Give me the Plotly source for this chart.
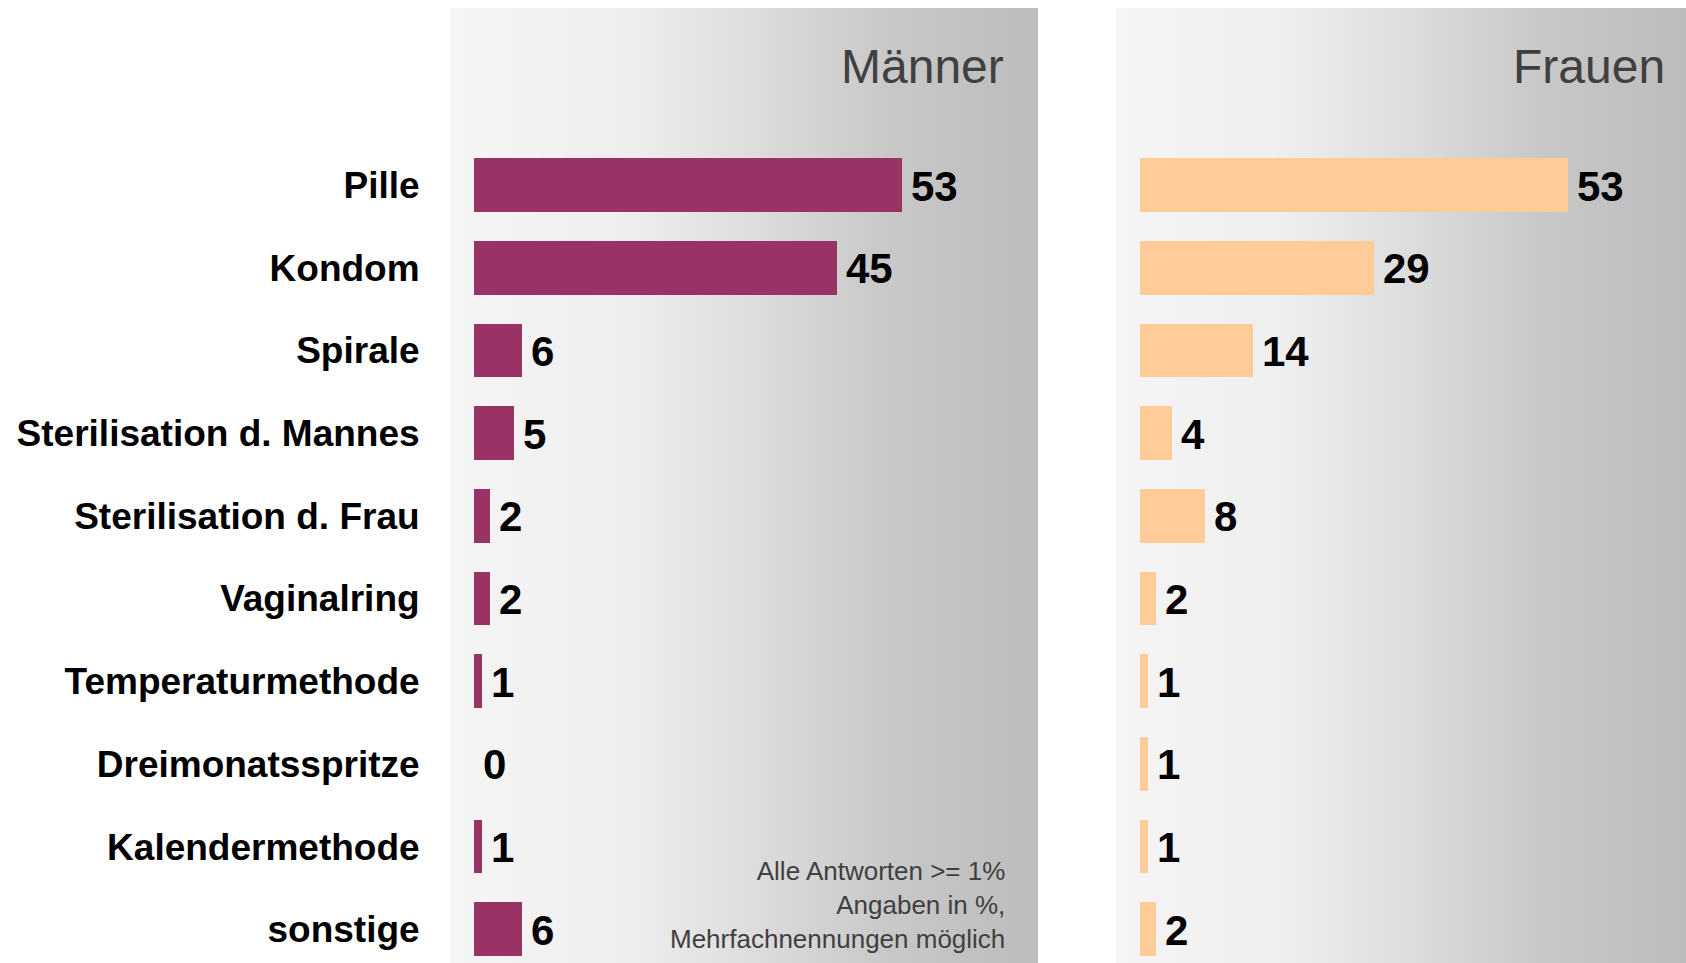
import numpy as np
import plotly.graph_objects as go

categories = ["Pille", "Kondom", "Spirale", "Sterilisation d. Mannes", "Sterilisation d. Frau",
              "Vaginalring", "Temperaturmethode", "Dreimonatsspritze", "Kalendermethode", "sonstige"]
maenner = [53, 45, 6, 5, 2, 2, 1, 0, 1, 6]
frauen = [53, 29, 14, 4, 8, 2, 1, 1, 1, 2]
panel_titles = ["Männer", "Frauen"]
footnote = "Alle Antworten >= 1%<br>Angaben in %,<br>Mehrfachnennungen möglich"

W, H = 1686, 963
FONT = "Liberation Sans, Arial, sans-serif"
men_color = "#993366"
women_color = "#FFCC99"

pos = list(range(len(categories)))
px_per_row = 82.7
row0 = 185
top = 8
plot_h = H - top
yrange = [(H - row0) / px_per_row, -(row0 - top) / px_per_row]
px_per_unit = 8.075
pan1 = (450, 1038)
pan2 = (1116, W)
inset = 24
xr1 = [-inset / px_per_unit, (pan1[1] - pan1[0] - inset) / px_per_unit]
xr2 = [-inset / px_per_unit, (pan2[1] - pan2[0] - inset) / px_per_unit]

grad_scale = [[0, "#f5f5f5"], [0.3, "#eeeeee"], [0.5, "#dedede"], [0.75, "#c8c8c8"], [1, "#bcbcbc"]]

fig = go.Figure()

def gradient(xr, xa, ya):
    n = 150
    xe = np.linspace(xr[0], xr[1], n + 1)
    z = [list(np.linspace(0, 1, n))]
    fig.add_trace(go.Heatmap(
        x=xe, y=[yrange[0], yrange[1]], z=z,
        colorscale=grad_scale, showscale=False,
        hoverinfo="skip", xaxis=xa, yaxis=ya, zmin=0, zmax=1))

gradient(xr1, "x", "y")
gradient(xr2, "x2", "y2")

for vals, col, xa, ya in [(maenner, men_color, "x", "y"), (frauen, women_color, "x2", "y2")]:
    fig.add_trace(go.Bar(
        x=vals, y=pos, orientation="h", marker=dict(color=col, line=dict(width=0)),
        width=0.65, xaxis=xa, yaxis=ya, hoverinfo="skip", showlegend=False))
    for v, p in zip(vals, pos):
        fig.add_annotation(x=v, y=p, xref=xa, yref=ya, text=str(v), showarrow=False,
                           xanchor="left", yanchor="middle", xshift=7, yshift=-1,
                           font=dict(family=FONT, size=42, color="#000000", weight="bold"))

axis_common = dict(showgrid=False, zeroline=False, showticklabels=False, showline=False, fixedrange=True)
fig.update_layout(
    width=W, height=H,
    margin=dict(l=0, r=0, t=top, b=0),
    paper_bgcolor="white", plot_bgcolor="rgba(0,0,0,0)",
    showlegend=False,
    bargap=0,
    xaxis=dict(domain=[pan1[0] / W, pan1[1] / W], range=xr1, **axis_common),
    xaxis2=dict(domain=[pan2[0] / W, 1.0], range=xr2, anchor="y2", **axis_common),
    yaxis=dict(range=yrange, tickvals=pos, ticktext=categories, showgrid=False, zeroline=False,
               showline=False, ticks="outside", ticklen=22, tickcolor="rgba(0,0,0,0)",
               tickfont=dict(family=FONT, size=37, color="#000000", weight="bold"), fixedrange=True),
    yaxis2=dict(range=yrange, anchor="x2", showgrid=False, zeroline=False, showticklabels=False,
                showline=False, fixedrange=True),
)

def ypaper(py):
    return 1 - (py - top) / plot_h

title_x = [1006, 1667]
for t, xp in zip(panel_titles, title_x):
    fig.add_annotation(text=t, x=xp / W, y=ypaper(67), xref="paper", yref="paper",
                       xanchor="right", yanchor="middle", showarrow=False,
                       font=dict(family=FONT, size=48, color="#404040"))

fig.add_annotation(text=footnote, x=1007 / W, y=ypaper(905), xref="paper", yref="paper",
                   xanchor="right", yanchor="middle", align="right", showarrow=False,
                   font=dict(family=FONT, size=26, color="#404040"))

fig.write_html("out.html", config={"displayModeBar": False},
               post_script="document.body.style.margin='0';document.body.style.overflow='hidden';")
